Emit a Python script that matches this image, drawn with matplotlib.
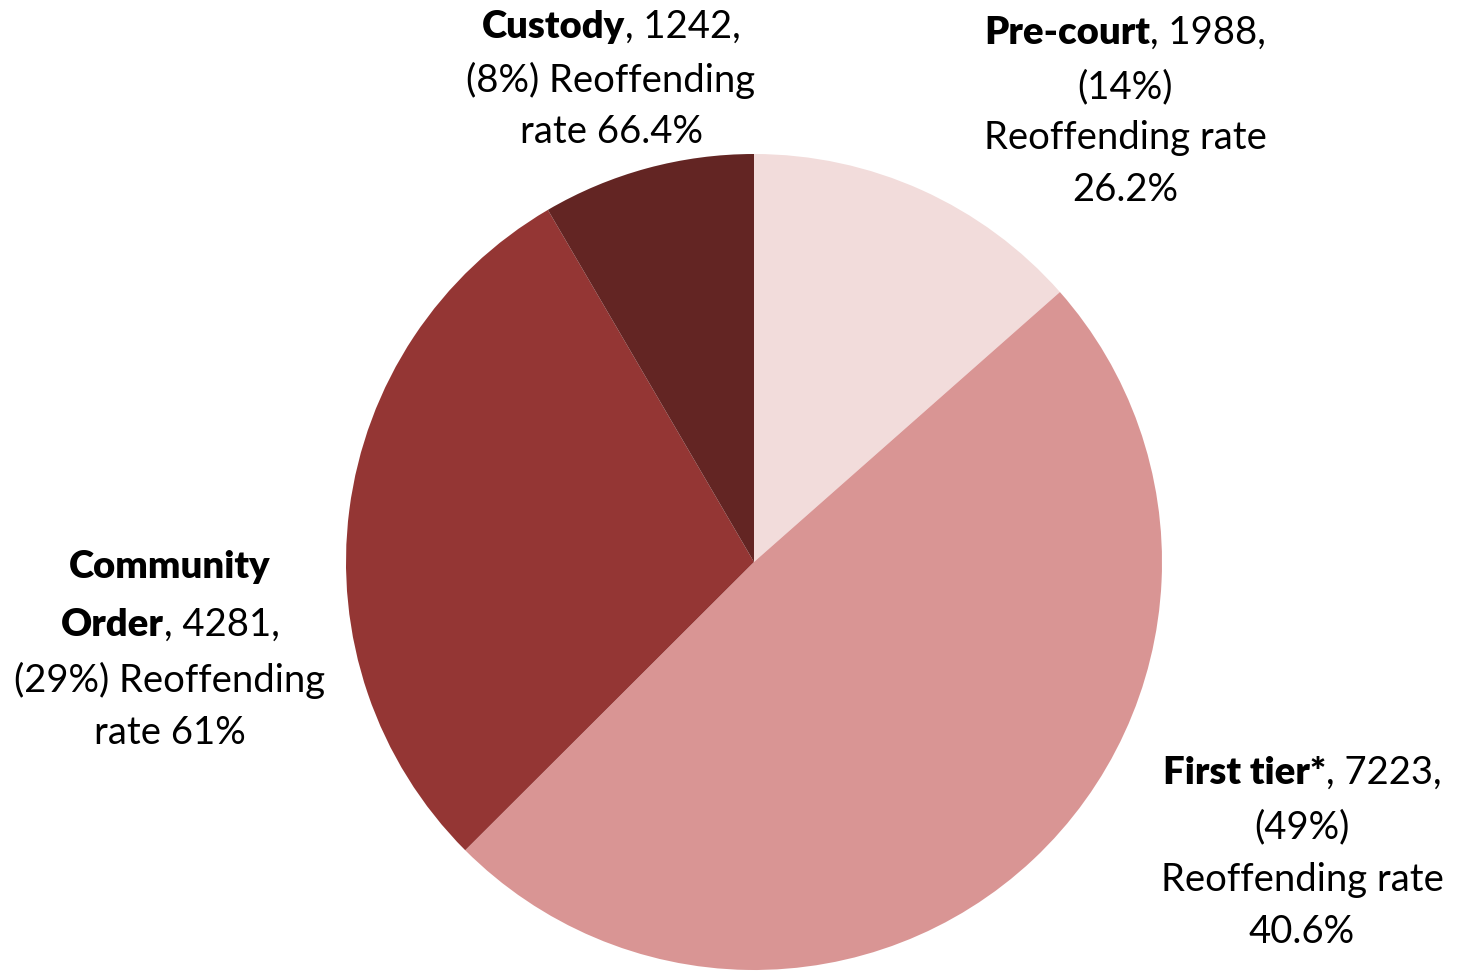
import matplotlib
matplotlib.use('Agg')
from matplotlib import pyplot as plt

# Data
categories = ['Pre-court', 'First tier*', 'Community Order', 'Custody']
counts = [1988, 7223, 4281, 1242]
shares = ['14%', '49%', '29%', '8%']
reoffending = ['26.2%', '40.6%', '61%', '66.4%']
colors = ['#F2DCDB', '#D99594', '#943634', '#632523']

plt.rcParams['font.family'] = ['Lato', 'DejaVu Sans']

W, H = 1460, 971
fig = plt.figure(figsize=(W / 100, H / 100), dpi=100)
fig.patch.set_facecolor('white')

# pie axes, centre about (754, 562) px, radius about 408 px
cx, cy, r = 754, 562, 408
ax = fig.add_axes([(cx - r) / W, 1 - (cy + r) / H, 2 * r / W, 2 * r / H])
ax.pie(counts, colors=colors, startangle=90, counterclock=False, radius=1,
       wedgeprops=dict(linewidth=0))
ax.set_xlim(-1, 1)
ax.set_ylim(-1, 1)
ax.set_aspect('equal')
ax.axis('off')

FS = 27.5
renderer = fig.canvas.get_renderer()


def line(xc, y, bold, normal):
    # one centred line, bold part followed by normal part
    yf = 1 - y / H
    parts = []
    if bold:
        parts.append(fig.text(0, yf, bold, fontsize=FS, fontweight='heavy',
                              ha='left', va='center'))
    if normal:
        parts.append(fig.text(0, yf, normal, fontsize=FS,
                              ha='left', va='center'))
    widths = [p.get_window_extent(renderer).width for p in parts]
    x = xc - sum(widths) / 2
    for p, w in zip(parts, widths):
        p.set_x(x / W)
        x += w


# label text, line by line
line(1125, 33, categories[0], ', %d,' % counts[0])
line(1125, 87, '', '(%s)' % shares[0])
line(1125, 138, '', 'Reoffending rate')
line(1125, 190, '', reoffending[0])

line(1302, 773, categories[1], ', %d,' % counts[1])
line(1302, 827, '', '(%s)' % shares[1])
line(1302, 880, '', 'Reoffending rate')
line(1302, 932, '', reoffending[1])

line(170, 567, 'Community', '')
line(170, 625, 'Order', ', %d,' % counts[2])
line(170, 680, '', '(%s) Reoffending' % shares[2])
line(170, 733, '', 'rate ' + reoffending[2])

line(611, 27, categories[3], ', %d,' % counts[3])
line(611, 80, '', '(%s) Reoffending' % shares[3])
line(611, 132, '', 'rate ' + reoffending[3])

fig.savefig('out.png', dpi=100)
